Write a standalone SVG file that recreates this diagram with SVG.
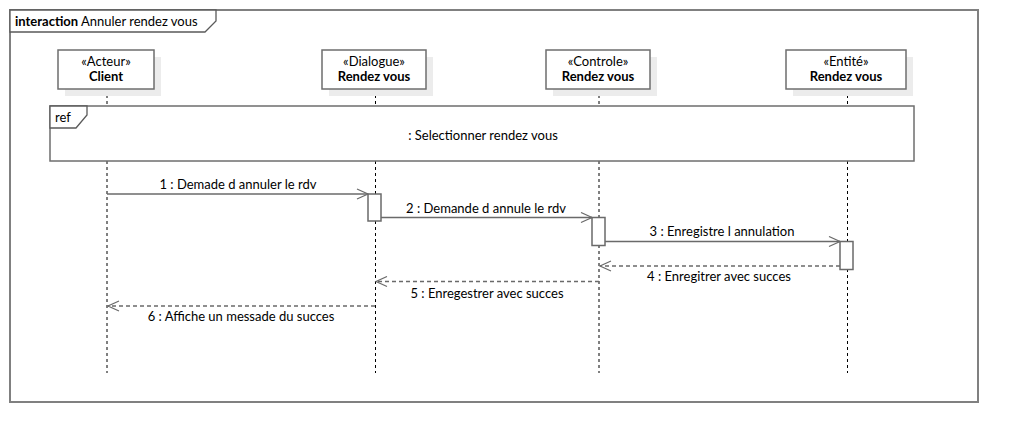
<svg xmlns="http://www.w3.org/2000/svg" width="1018" height="442" viewBox="0 0 1018 442">
<defs>
<style>
text{font-family:Lato,"Liberation Sans",sans-serif;font-size:13px;fill:#000}
.b{font-weight:bold}
.frame{fill:none;stroke:#808080;stroke-width:2}
.tab{fill:#fff;stroke:#5a5a5a;stroke-width:1.3}
.box{fill:#fff;stroke:#6e6e6e;stroke-width:1.5}
.shadow{fill:#ececec;stroke:none}
.life{stroke:#000;stroke-width:1;stroke-dasharray:3 3;fill:none}
.msg{stroke:#6a6a6a;stroke-width:1.6;fill:none}
.ret{stroke:#6a6a6a;stroke-width:1.6;fill:none;stroke-dasharray:4 3}
.act{fill:#fff;stroke:#6a6a6a;stroke-width:1.5}
</style>
<marker id="open" markerWidth="14" markerHeight="12" refX="12" refY="6" orient="auto" markerUnits="userSpaceOnUse">
<path d="M1,1 L12,6 L1,11" fill="none" stroke="#6a6a6a" stroke-width="1.2"/>
</marker>
</defs>
<rect width="1018" height="442" fill="#fff"/>
<g id="frame">
<rect class="frame" x="10" y="10" width="968" height="392"/>
<path class="tab" d="M10,10 H216 V21 L205,32 H10 Z"/>
<text x="15" y="26"><tspan class="b">interaction</tspan> Annuler rendez vous</text>
</g>
<g id="lifelines">
<line class="life" x1="107" y1="89" x2="107" y2="373"/>
<line class="life" x1="375.5" y1="89" x2="375.5" y2="373"/>
<line class="life" x1="599" y1="89" x2="599" y2="373"/>
<line class="life" x1="847.5" y1="89" x2="847.5" y2="373"/>
</g>
<g id="client">
<rect class="shadow" x="65" y="57" width="96" height="39"/>
<rect class="box" x="58" y="50" width="96" height="39"/>
<text x="106" y="66" text-anchor="middle">«Acteur»</text>
<text x="106" y="81" text-anchor="middle" class="b">Client</text>
</g>
<g id="dialogue">
<rect class="shadow" x="329" y="57" width="104" height="39"/>
<rect class="box" x="322" y="50" width="104" height="39"/>
<text x="374" y="66" text-anchor="middle">«Dialogue»</text>
<text x="374" y="81" text-anchor="middle" class="b">Rendez vous</text>
</g>
<g id="controle">
<rect class="shadow" x="553" y="57" width="104" height="39"/>
<rect class="box" x="546" y="50" width="104" height="39"/>
<text x="598" y="66" text-anchor="middle">«Controle»</text>
<text x="598" y="81" text-anchor="middle" class="b">Rendez vous</text>
</g>
<g id="entite">
<rect class="shadow" x="793" y="57" width="120" height="39"/>
<rect class="box" x="786" y="50" width="120" height="39"/>
<text x="846" y="66" text-anchor="middle">«Entité»</text>
<text x="846" y="81" text-anchor="middle" class="b">Rendez vous</text>
</g>
<g id="ref">
<rect class="box" x="50" y="106" width="864" height="55"/>
<path class="tab" d="M50,106 H87 V115 L76,128 H50 Z"/>
<text x="55" y="122">ref</text>
<text x="483" y="140" text-anchor="middle">: Selectionner rendez vous</text>
</g>
<g id="activations">
<rect class="act" x="368" y="194" width="13" height="27"/>
<rect class="act" x="592" y="217.5" width="13" height="28"/>
<rect class="act" x="840" y="241.5" width="13" height="28"/>
</g>
<g id="connectors">
<line class="msg" x1="107" y1="194" x2="368" y2="194" marker-end="url(#open)"/>
<text x="238" y="189" text-anchor="middle">1 : Demade d annuler le rdv</text>
<line class="msg" x1="381" y1="217.5" x2="592" y2="217.5" marker-end="url(#open)"/>
<text x="486" y="213" text-anchor="middle">2 : Demande d annule le rdv</text>
<line class="msg" x1="605" y1="241.5" x2="840" y2="241.5" marker-end="url(#open)"/>
<text x="722" y="236" text-anchor="middle">3 : Enregistre l annulation</text>
<line class="ret" x1="840" y1="266" x2="600" y2="266" marker-end="url(#open)"/>
<text x="719" y="281" text-anchor="middle">4 : Enregitrer avec succes</text>
<line class="ret" x1="599" y1="281.5" x2="376" y2="281.5" marker-end="url(#open)"/>
<text x="487" y="298" text-anchor="middle">5 : Enregestrer avec succes</text>
<line class="ret" x1="375" y1="306" x2="108" y2="306" marker-end="url(#open)"/>
<text x="241" y="321" text-anchor="middle">6 : Affiche un messade du succes</text>
</g>
</svg>
